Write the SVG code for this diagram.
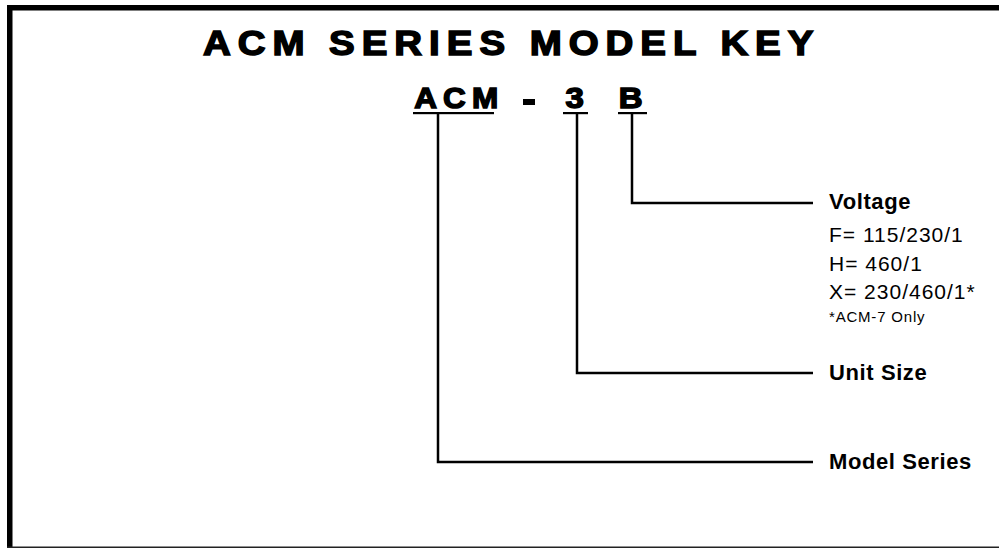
<svg xmlns="http://www.w3.org/2000/svg" width="999" height="549" viewBox="0 0 999 549">
<style>
.title{font-family:"Liberation Sans",Arial,sans-serif;font-weight:bold;fill:#000;stroke:#000;stroke-width:1.5}
.lbl{font-family:"Liberation Sans",Arial,sans-serif;font-weight:bold;font-size:22px;fill:#000;letter-spacing:0.6px}
.val{font-family:"Liberation Sans",Arial,sans-serif;font-size:21px;fill:#000;letter-spacing:1px}
.note{font-family:"Liberation Sans",Arial,sans-serif;font-size:15px;fill:#000;letter-spacing:0.8px}
.ln{fill:none;stroke:#000;stroke-width:2.5}
</style>
<rect width="999" height="549" fill="#fff"/>
<g id="frame">
<rect x="7" y="5" width="992" height="5.5" fill="#000"/>
<rect x="7" y="5" width="5.5" height="543" fill="#000"/>
<rect x="7" y="546.5" width="992" height="1.5" fill="#222"/>
</g>
<g id="title">
<text class="title" transform="scale(1.1,1)" x="184.5" y="55" font-size="35" textLength="555" lengthAdjust="spacing">ACM SERIES MODEL KEY</text>
</g>
<g id="model-code">
<text class="title" transform="scale(1.05,1)" x="394.5" y="108" font-size="30" textLength="80" lengthAdjust="spacing">ACM</text>
<rect x="413" y="112" width="81" height="2.2" fill="#000"/>
<rect x="523" y="99" width="12" height="6" fill="#000"/>
<text class="title" transform="scale(1.1,1)" x="514" y="108" font-size="30">3</text>
<rect x="563" y="112" width="25" height="2.2" fill="#000"/>
<text class="title" transform="scale(1.1,1)" x="562.5" y="108" font-size="30">B</text>
<rect x="618" y="112" width="29" height="2.2" fill="#000"/>
</g>
<g id="connectors">
<polyline class="ln" points="632,114 632,203 813,203"/>
<polyline class="ln" points="577,114 577,373 813,373"/>
<polyline class="ln" points="438,114 438,462 813,462"/>
</g>
<g id="voltage">
<text class="lbl" x="829" y="209">Voltage</text>
<text class="val" x="829" y="242">F= 115/230/1</text>
<text class="val" x="829" y="271">H= 460/1</text>
<text class="val" x="829" y="299">X= 230/460/1*</text>
<text class="note" x="829" y="322">*ACM-7 Only</text>
</g>
<g id="unit-size">
<text class="lbl" x="829" y="380">Unit Size</text>
</g>
<g id="model-series">
<text class="lbl" x="829" y="469">Model Series</text>
</g>
</svg>
